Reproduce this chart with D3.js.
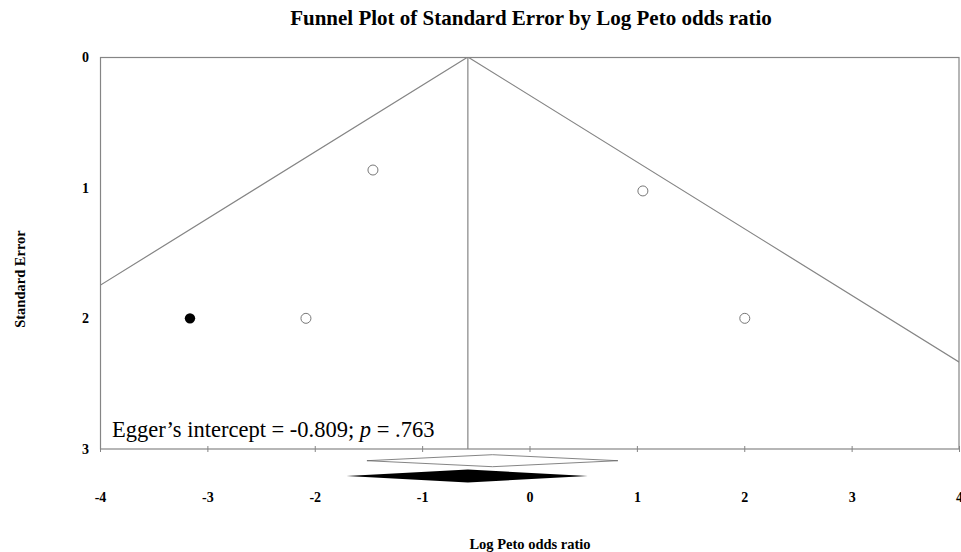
<!DOCTYPE html>
<html><head><meta charset="utf-8">
<script src="https://cdn.jsdelivr.net/npm/d3@7"></script>
<style>body{margin:0;background:#fff}svg{display:block}</style>
</head><body>
<svg id="c" width="961" height="552"></svg>
<script>
const observedX = [-1.458, -2.082, 1.056, 2.005];
const observedSE = [0.865, 2.0, 1.025, 2.0];
const imputedX = [-3.162];
const imputedSE = [2.0];
const pooledObserved = {est: -0.345, lo: -1.514, hi: 0.823};
const pooledAdjusted = {est: -0.574, lo: -1.704, hi: 0.543};
const xTicks = [-4, -3, -2, -1, 0, 1, 2, 3, 4];
const yTicks = [0, 1, 2, 3];
const eggerIntercept = "-0.809";
const eggerP = ".763";

const svg = d3.select("#c");
const font = "'Liberation Serif','Times New Roman',serif";
const x = d3.scaleLinear().domain([-4, 4]).range([100, 959]);
const y = d3.scaleLinear().domain([0, 3]).range([57, 449]);
const grey = "#858585";

svg.append("defs").append("clipPath").attr("id", "clip")
  .append("rect").attr("x", 100).attr("y", 57).attr("width", 859).attr("height", 392);

// frame
svg.append("rect").attr("x", 100.5).attr("y", 57.5).attr("width", 858.5).attr("height", 391.5)
  .attr("fill", "none").attr("stroke", grey).attr("stroke-width", 1.2);

const g = svg.append("g").attr("clip-path", "url(#clip)");
const seMax = 3;
const c = pooledAdjusted.est;
g.append("path").attr("fill", "none").attr("stroke", grey).attr("stroke-width", 1.2)
  .attr("d", d3.line()([[x(c - 1.96 * seMax), y(seMax)], [x(c), y(0)], [x(c + 1.96 * seMax), y(seMax)]]));
g.append("line").attr("x1", x(c)).attr("x2", x(c)).attr("y1", y(0)).attr("y2", y(3))
  .attr("stroke", grey).attr("stroke-width", 1.2);

// points
g.selectAll("circle.obs").data(observedX).join("circle").attr("class", "obs")
  .attr("cx", d => x(d)).attr("cy", (d, i) => y(observedSE[i])).attr("r", 5)
  .attr("fill", "#fff").attr("stroke", "#777").attr("stroke-width", 1);
g.selectAll("circle.imp").data(imputedX).join("circle").attr("class", "imp")
  .attr("cx", d => x(d)).attr("cy", (d, i) => y(imputedSE[i])).attr("r", 5.2)
  .attr("fill", "#000");

// x axis
const xAxis = d3.axisBottom(x).tickValues(xTicks).tickSize(3).tickFormat(d => String(d));
const ax = svg.append("g").attr("transform", "translate(0,449)").call(xAxis);
ax.select(".domain").remove();
ax.selectAll(".tick line").attr("stroke", grey).attr("y1", -3).attr("y2", 3);
ax.selectAll(".tick text").attr("y", 53).attr("dy", 0)
  .attr("font-family", font).attr("font-weight", "bold").attr("font-size", 14).attr("fill", "#000");

// y axis labels
const yAxis = d3.axisLeft(y).tickValues(yTicks).tickSize(0).tickPadding(11).tickFormat(d => String(d));
const ay = svg.append("g").attr("transform", "translate(100,0)").call(yAxis);
ay.select(".domain").remove();
ay.selectAll(".tick text").attr("font-family", font).attr("font-weight", "bold")
  .attr("font-size", 14).attr("fill", "#000");

// diamonds
function diamond(p, cy, h) {
  return d3.line()([[x(p.lo), cy], [x(p.est), cy - h], [x(p.hi), cy], [x(p.est), cy + h], [x(p.lo), cy]]);
}
svg.append("path").attr("d", diamond(pooledObserved, 460.7, 6)).attr("fill", "#fff")
  .attr("stroke", "#666").attr("stroke-width", 0.8);
svg.append("path").attr("d", diamond(pooledAdjusted, 476, 6.5)).attr("fill", "#000");

// Egger text
const t = svg.append("text").attr("x", 112).attr("y", 437).attr("font-family", font)
  .attr("font-size", 22.5).attr("fill", "#000");
t.append("tspan").text("Egger\u2019s intercept = " + eggerIntercept + "; ");
t.append("tspan").attr("font-style", "italic").text("p");
t.append("tspan").text(" = " + eggerP);

// titles
svg.append("text").attr("x", 531).attr("y", 25).attr("text-anchor", "middle")
  .attr("font-family", font).attr("font-weight", "bold").attr("font-size", 21)
  .text("Funnel Plot of Standard Error by Log Peto odds ratio");
svg.append("text").attr("x", 530).attr("y", 549).attr("text-anchor", "middle")
  .attr("font-family", font).attr("font-weight", "bold").attr("font-size", 14.5)
  .text("Log Peto odds ratio");
svg.append("text").attr("transform", "translate(25,279) rotate(-90)").attr("text-anchor", "middle")
  .attr("font-family", font).attr("font-weight", "bold").attr("font-size", 14.5)
  .text("Standard Error");
</script>
</body></html>
